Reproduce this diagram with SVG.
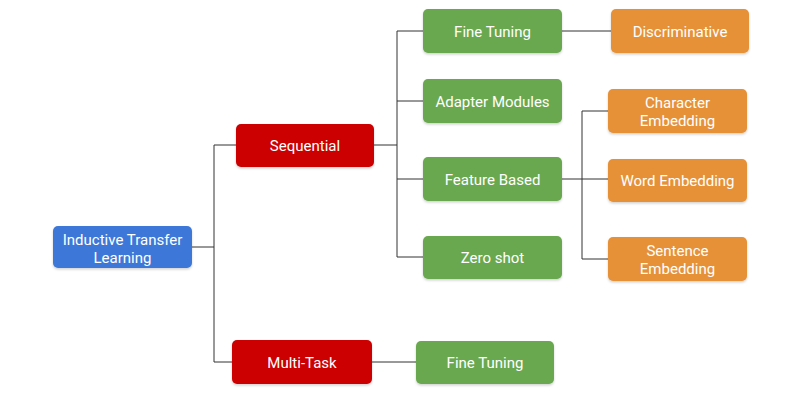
<svg xmlns="http://www.w3.org/2000/svg" width="802" height="404" viewBox="0 0 802 404">
<defs>
<style>
.n rect{stroke:none}
.blue{fill:#3c78d8}
.red{fill:#cc0000}
.green{fill:#6aa84f}
.orange{fill:#e69138}
text{font-family:Roboto,"Liberation Sans",sans-serif;font-size:15px;fill:#ffffff;text-anchor:middle}
.c{stroke:#333333;stroke-width:1;fill:none}
</style>
<filter id="sh" x="-10%" y="-10%" width="120%" height="140%"><feDropShadow dx="0" dy="1.5" stdDeviation="1.2" flood-color="#000" flood-opacity="0.18"/></filter>
</defs>
<rect width="802" height="404" fill="#ffffff"/>
<g id="connectors" class="c">
<path class="c" d="M192,247H214M214,145V362M214,145H236M214,362H232"/>
<path class="c" d="M374,145H397M397,31V257M397,31H423M397,101H423M397,179H423M397,257H423"/>
<path class="c" d="M562,31H611"/>
<path class="c" d="M562,179H608M582,111V259M582,111H608M582,259H608"/>
<path class="c" d="M372,362H416"/>
</g>
<g id="itl" class="n"><rect class="blue" x="53" y="226" width="139" height="42" rx="5" filter="url(#sh)"/><text x="122.5" y="244.5">Inductive Transfer</text><text x="122.5" y="262.5">Learning</text></g>
<g id="sequential" class="n"><rect class="red" x="236" y="124" width="138" height="43" rx="5" filter="url(#sh)"/><text x="305" y="151">Sequential</text></g>
<g id="multitask" class="n"><rect class="red" x="232" y="340" width="140" height="44" rx="5" filter="url(#sh)"/><text x="302" y="367.5">Multi-Task</text></g>
<g id="finetuning1" class="n"><rect class="green" x="423" y="9" width="139" height="44" rx="5" filter="url(#sh)"/><text x="492.5" y="36.5">Fine Tuning</text></g>
<g id="adapter" class="n"><rect class="green" x="423" y="79" width="139" height="44" rx="5" filter="url(#sh)"/><text x="492.5" y="106.5">Adapter Modules</text></g>
<g id="feature" class="n"><rect class="green" x="423" y="157" width="139" height="44" rx="5" filter="url(#sh)"/><text x="492.5" y="184.5">Feature Based</text></g>
<g id="zeroshot" class="n"><rect class="green" x="423" y="236" width="139" height="43" rx="5" filter="url(#sh)"/><text x="492.5" y="263">Zero shot</text></g>
<g id="finetuning2" class="n"><rect class="green" x="416" y="341" width="138" height="43" rx="5" filter="url(#sh)"/><text x="485" y="368">Fine Tuning</text></g>
<g id="discriminative" class="n"><rect class="orange" x="611" y="9" width="138" height="44" rx="5" filter="url(#sh)"/><text x="680" y="36.5">Discriminative</text></g>
<g id="character" class="n"><rect class="orange" x="608" y="89" width="139" height="44" rx="5" filter="url(#sh)"/><text x="677.5" y="107.5">Character</text><text x="677.5" y="125.5">Embedding</text></g>
<g id="word" class="n"><rect class="orange" x="608" y="159" width="139" height="43" rx="5" filter="url(#sh)"/><text x="677.5" y="186">Word Embedding</text></g>
<g id="sentence" class="n"><rect class="orange" x="608" y="237" width="139" height="44" rx="5" filter="url(#sh)"/><text x="677.5" y="255.5">Sentence</text><text x="677.5" y="273.5">Embedding</text></g>
</svg>
